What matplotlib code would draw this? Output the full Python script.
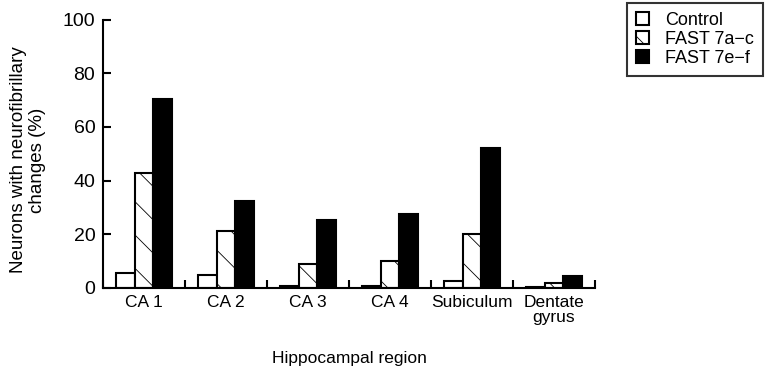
import matplotlib
matplotlib.use("Agg")
import matplotlib.pyplot as plt
import numpy as np

plt.rcParams['font.family'] = ['Liberation Sans', 'DejaVu Sans']
plt.rcParams['hatch.linewidth'] = 0.6
plt.rcParams['hatch.color'] = '#555555'

regions = ["CA 1", "CA 2", "CA 3", "CA 4", "Subiculum", "Dentate\ngyrus"]
control = [5.7, 4.8, 0.8, 0.8, 2.5, 0.3]
fast_ac = [42.7, 21.3, 8.8, 10.0, 20.0, 1.9]
fast_ef = [70.5, 32.5, 25.5, 27.5, 52.0, 4.5]
series_names = ["Control", "FAST 7a\u2212c", "FAST 7e\u2212f"]
yticks = [0, 20, 40, 60, 80, 100]

fig = plt.figure(figsize=(7.69, 3.75), dpi=100)
ax = fig.add_axes([103/769, 1-288/375, (595-103)/769, (288-19.5)/375])

x = np.arange(len(regions)) + 0.5
w = 0.225
b1 = ax.bar(x - w, control, w, facecolor='white', edgecolor='black', linewidth=1.5, label=series_names[0])
b2 = ax.bar(x, fast_ac, w, facecolor='white', edgecolor='black', linewidth=1.5, hatch='\\', label=series_names[1])
b3 = ax.bar(x + w, fast_ef, w, facecolor='black', edgecolor='black', linewidth=1.5, label=series_names[2])

ax.set_xlim(0, len(regions))
ax.set_ylim(0, 100)
ax.set_yticks(yticks)
ax.set_yticklabels([str(v) for v in yticks], fontsize=14)
ax.set_xticks(np.arange(len(regions) + 1))
ax.set_xticklabels([])
ax.tick_params(axis='both', direction='in', length=6, width=1.5, colors='black')
ax.tick_params(axis='y', pad=5.5)
for i, lab in enumerate(regions):
    ax.text(x[i], -2.5, lab, ha='center', va='top', fontsize=12.5, linespacing=1.0)

ax.spines['top'].set_visible(False)
ax.spines['right'].set_visible(False)
ax.spines['left'].set_linewidth(1.5)
ax.spines['bottom'].set_linewidth(1.5)

fig.text(28/769, 1-160/375, "Neurons with neurofibrillary\nchanges (%)", rotation=90,
         ha='center', va='center', fontsize=13.5, linespacing=1.1)
fig.text((103+595)/2/769, 1-358/375, "Hippocampal region", ha='center', va='center', fontsize=12.5)

leg = fig.legend(handles=[b1, b2, b3], labels=series_names, loc='upper left',
                 bbox_to_anchor=(627/769, 1-3/375), fontsize=13, frameon=True,
                 fancybox=False, edgecolor='black', handlelength=0.7, handleheight=0.7,
                 handletextpad=0.9, borderpad=0.5, labelspacing=0.1, borderaxespad=0)
leg.get_frame().set_linewidth(1.5)

fig.savefig("out.png", dpi=100)
